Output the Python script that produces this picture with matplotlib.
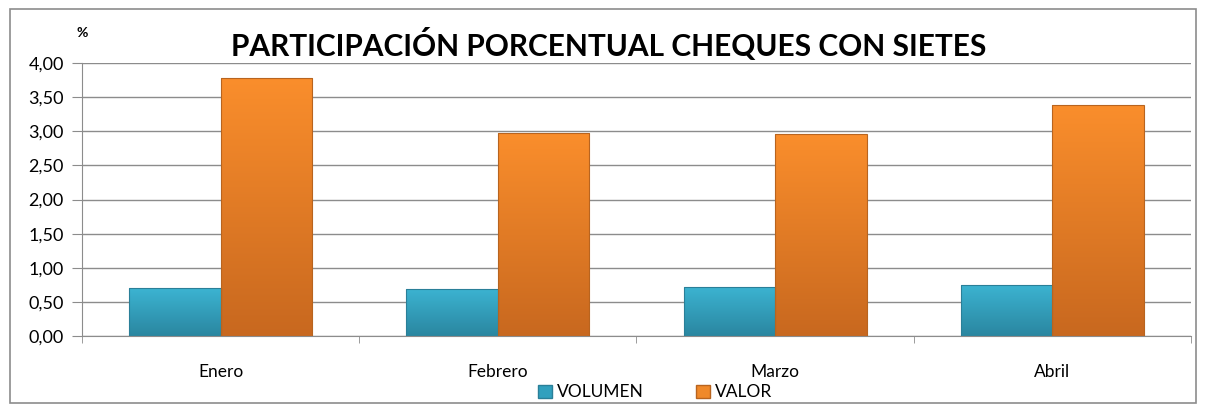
import numpy as np
import matplotlib.pyplot as plt
from matplotlib.patches import Rectangle

# Data
meses = ["Enero", "Febrero", "Marzo", "Abril"]
volumen = [0.70, 0.69, 0.72, 0.75]
valor = [3.78, 2.97, 2.96, 3.38]
yticks = [0, 0.5, 1, 1.5, 2, 2.5, 3, 3.5, 4]

plt.rcParams['font.family'] = ['Lato', 'DejaVu Sans']

fig = plt.figure(figsize=(12.06, 4.12), dpi=100)
ax = fig.add_axes([0.068, 0.1845, 0.9195, 0.6625])

# outer chart border
fig.patches.append(Rectangle((0.008, 0.022), 0.984, 0.956, transform=fig.transFigure,
                             fill=False, edgecolor='#8c8c8c', linewidth=1.2))

x = np.arange(len(meses))
w = 0.33


def gradient_bars(bars, top, bottom, edge):
    cmap = plt.matplotlib.colors.LinearSegmentedColormap.from_list('g', [bottom, top])
    grad = np.linspace(0, 1, 256).reshape(-1, 1)
    for b in bars:
        bx, by = b.get_x(), b.get_y()
        bw, bh = b.get_width(), b.get_height()
        im = ax.imshow(grad, cmap=cmap, origin='lower', aspect='auto',
                       extent=[bx, bx + bw, by, by + bh], zorder=2)
        im.set_clip_path(b)
        b.set_facecolor('none')
        b.set_edgecolor(edge)
        b.set_linewidth(0.8)
        b.set_zorder(3)


b1 = ax.bar(x - w / 2, volumen, w, label="VOLUMEN", color='#31a0be')
b2 = ax.bar(x + w / 2, valor, w, label="VALOR", color='#f0892a')
gradient_bars(b1, '#3cb4d2', '#2a86a0', '#2a7f98')
gradient_bars(b2, '#fa8e2c', '#c8681f', '#b8641f')

ax.set_xlim(-0.5, len(meses) - 0.5)
ax.set_ylim(0, 4)
ax.set_yticks(yticks)
ax.set_yticklabels([f"{v:.2f}".replace('.', ',') for v in yticks], fontsize=13)
ax.set_xticks(x)
ax.set_xticklabels(meses, fontsize=12.5)
ax.set_xticks(np.arange(len(meses) + 1) - 0.5, minor=True)
ax.tick_params(axis='x', which='major', length=0, pad=20)
ax.tick_params(axis='x', which='minor', length=5, color='#8c8c8c')
ax.tick_params(axis='y', length=7, color='#8c8c8c', pad=6)

ax.yaxis.grid(True, color='#8c8c8c', linewidth=1.0)
ax.set_axisbelow(True)
for s in ['top', 'right']:
    ax.spines[s].set_visible(False)
ax.spines['left'].set_color('#8c8c8c')
ax.spines['bottom'].set_color('#8c8c8c')

fig.text(0.505, 0.893, "PARTICIPACIÓN PORCENTUAL CHEQUES CON SIETES", ha='center', va='center',
         fontsize=21.5, fontweight='bold')
fig.text(0.068, 0.92, "%", ha='center', va='center', fontsize=10, fontweight='bold')

fig.legend(handles=[Rectangle((0, 0), 1, 1, fc='#31a0be', ec='#2a7f98'),
                    Rectangle((0, 0), 1, 1, fc='#f0892a', ec='#b8641f')],
           labels=["VOLUMEN", "VALOR"], loc='center', bbox_to_anchor=(0.543, 0.048),
           ncol=2, frameon=False, fontsize=12.5, handlelength=0.8, handleheight=0.8,
           handletextpad=0.3, columnspacing=3.0)

fig.savefig("out.png", dpi=100)
